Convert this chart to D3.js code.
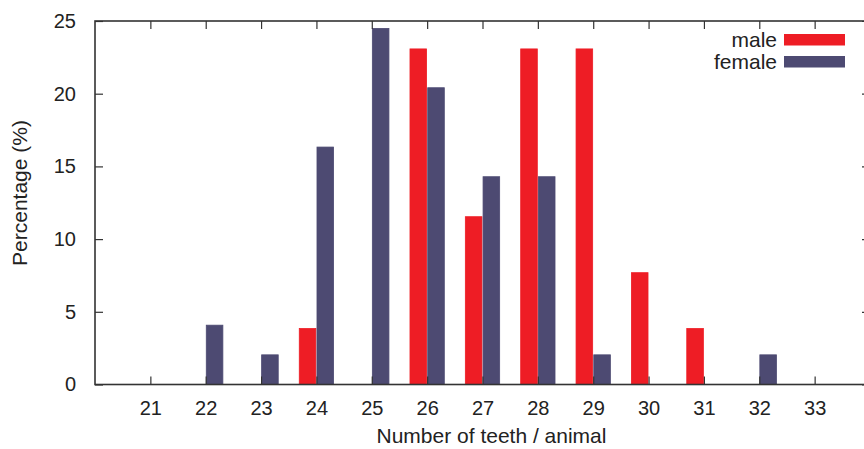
<!DOCTYPE html>
<html>
<head>
<meta charset="utf-8">
<script src="https://cdn.jsdelivr.net/npm/d3@7"></script>
<style>
  html, body { margin: 0; padding: 0; background: #fff; }
  svg { display: block; font-family: "Liberation Sans", Arial, Helvetica, sans-serif; }
</style>
</head>
<body>
<svg id="chart" width="864" height="449"></svg>
<script>
// Tooth counts per animal and the share of each sex (%)
const teeth  = [21, 22, 23, 24, 25, 26, 27, 28, 29, 30, 31, 32, 33];
const male   = [0, 0, 0, 3.85, 0, 23.08, 11.54, 23.08, 23.08, 7.69, 3.85, 0, 0];
const female = [0, 4.08, 2.04, 16.33, 24.49, 20.41, 14.29, 14.29, 2.04, 0, 0, 2.04, 0];
const yTicks = [0, 5, 10, 15, 20, 25];
const seriesNames = ["male", "female"];
const seriesColors = ["#ee1d25", "#4d4a72"];

const svg = d3.select("#chart");
const plotLeft = 95, plotRight = 870, plotTop = 21, plotBottom = 384.5;

const x = d3.scaleLinear().domain([20, 34]).range([plotLeft, plotRight]);
const y = d3.scaleLinear().domain([0, 25]).range([plotBottom, plotTop]);

const frameColor = "#333";
const tickLen = 8;

// Bars: male to the left of each tick, female to the right
const barW = 0.3, gap = 0.01;
const series = [male, female];
series.forEach((vals, si) => {
  svg.append("g")
    .selectAll("rect")
    .data(teeth.map((t, i) => ({ t, v: vals[i] })))
    .join("rect")
    .attr("x", d => si === 0 ? x(d.t - gap - barW) : x(d.t + gap))
    .attr("width", x(20 + barW) - x(20))
    .attr("y", d => y(d.v))
    .attr("height", d => y(0) - y(d.v))
    .attr("fill", seriesColors[si])
    .attr("stroke", seriesColors[si])
    .attr("stroke-width", 0.8);
});

// Axes with inward ticks on all four sides
const fontSize = 20;
const xBottom = d3.axisBottom(x).tickValues(teeth).tickSize(-tickLen).tickPadding(16).tickFormat(d3.format("d"));
const xTop = d3.axisTop(x).tickValues(teeth).tickSize(-tickLen).tickFormat("");
const yLeft = d3.axisLeft(y).tickValues(yTicks).tickSize(-tickLen).tickPadding(19).tickFormat(d3.format("d"));
const yRight = d3.axisRight(y).tickValues(yTicks).tickSize(-tickLen).tickFormat("");

function styleAxis(g) {
  g.select(".domain").remove();
  g.selectAll(".tick line").attr("stroke", frameColor).attr("stroke-width", 1.2);
  g.selectAll(".tick text").attr("fill", "#222").attr("font-size", fontSize);
  g.attr("font-family", null);
}

svg.append("g").attr("transform", `translate(0,${plotBottom})`).call(xBottom).call(styleAxis);
svg.append("g").attr("transform", `translate(0,${plotTop})`).call(xTop).call(styleAxis);
svg.append("g").attr("transform", `translate(${plotLeft},0)`).call(yLeft).call(styleAxis);
svg.append("g").attr("transform", `translate(${plotRight},0)`).call(yRight).call(styleAxis);

// Plot frame
svg.append("rect")
  .attr("x", plotLeft).attr("y", plotTop)
  .attr("width", plotRight - plotLeft).attr("height", plotBottom - plotTop)
  .attr("fill", "none").attr("stroke", frameColor).attr("stroke-width", 1.6);

// Axis titles
const titleSize = 21;
svg.append("text")
  .attr("x", 491.5).attr("y", 443)
  .attr("text-anchor", "middle").attr("font-size", titleSize).attr("fill", "#222")
  .text("Number of teeth / animal");

svg.append("text")
  .attr("transform", `translate(27,193) rotate(-90)`)
  .attr("text-anchor", "middle").attr("font-size", titleSize).attr("fill", "#222")
  .text("Percentage (%)");

// Legend
const legend = svg.append("g");
seriesNames.forEach((name, i) => {
  const rowY = 40 + i * 22;
  legend.append("text")
    .attr("x", 777).attr("y", rowY + 7)
    .attr("text-anchor", "end").attr("font-size", titleSize).attr("fill", "#222")
    .text(name);
  legend.append("rect")
    .attr("x", 784).attr("y", rowY - 6)
    .attr("width", 61).attr("height", 11.5)
    .attr("fill", seriesColors[i]);
});
</script>
</body>
</html>
